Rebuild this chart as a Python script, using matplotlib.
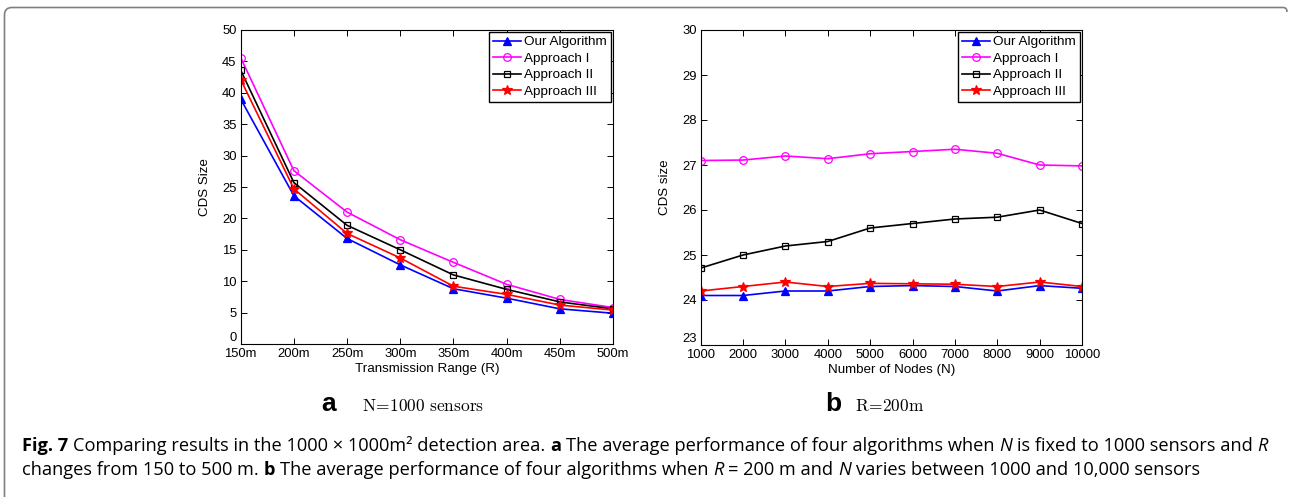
import matplotlib
matplotlib.use('Agg')
import matplotlib.pyplot as plt
from matplotlib.path import Path
from matplotlib.patches import PathPatch

# panel a: CDS size vs transmission range, N = 1000
ranges = [150, 200, 250, 300, 350, 400, 450, 500]
range_labels = ['150m', '200m', '250m', '300m', '350m', '400m', '450m', '500m']
a_ours = [39.0, 23.6, 16.8, 12.6, 8.8, 7.3, 5.6, 4.9]
a_app1 = [45.6, 27.6, 21.0, 16.6, 13.0, 9.5, 7.1, 5.8]
a_app2 = [43.6, 25.7, 18.9, 15.0, 11.0, 8.7, 6.7, 5.6]
a_app3 = [42.1, 24.7, 17.6, 13.7, 9.2, 7.9, 6.2, 5.4]

# panel b: CDS size vs number of nodes, R = 200m
nodes = [1000, 2000, 3000, 4000, 5000, 6000, 7000, 8000, 9000, 10000]
b_ours = [24.1, 24.1, 24.2, 24.2, 24.3, 24.32, 24.3, 24.2, 24.32, 24.26]
b_app1 = [27.1, 27.11, 27.2, 27.14, 27.25, 27.3, 27.35, 27.26, 27.0, 26.98]
b_app2 = [24.71, 25.0, 25.2, 25.3, 25.6, 25.7, 25.8, 25.84, 26.0, 25.7]
b_app3 = [24.2, 24.3, 24.4, 24.3, 24.37, 24.36, 24.35, 24.3, 24.4, 24.3]

names = ['Our Algorithm', 'Approach I', 'Approach II', 'Approach III']
colors = ['#0000ff', '#ff00ff', '#000000', '#ff0000']
markers = ['^', 'o', 's', '*']
msizes = [5.5, 5.5, 4.5, 7.5]
mfaces = ['#0000ff', 'none', 'none', '#ff0000']

W, H = 1289, 497
plt.rcParams['font.family'] = ['Liberation Sans', 'DejaVu Sans']
fig = plt.figure(figsize=(W / 100, H / 100), dpi=100)


def px(x0, y0, x1, y1):
    return [x0 / W, 1 - y1 / H, (x1 - x0) / W, (y1 - y0) / H]


def panel(ax, x, series, ylab):
    for ys, name, c, m, ms, mf in zip(series, names, colors, markers, msizes, mfaces):
        ax.plot(x, ys, color=c, marker=m, markersize=ms, markerfacecolor=mf,
                markeredgecolor=c, markeredgewidth=0.9, linewidth=1.2, label=name)
    ax.tick_params(direction='in', top=True, right=True, length=4, width=0.7,
                   labelsize=9.4, pad=3)
    ax.tick_params(axis='x', pad=3)
    for s in ax.spines.values():
        s.set_linewidth(0.8)
    ax.set_ylabel(ylab, fontsize=9.6, labelpad=8)
    leg = ax.legend(loc='upper right', fontsize=9.7, borderaxespad=0.15,
                    handlelength=2.1, handletextpad=0.2, labelspacing=0.3,
                    borderpad=0.3, fancybox=False, framealpha=1)
    leg.get_frame().set_edgecolor('black')
    leg.get_frame().set_linewidth(1.0)


ax1 = fig.add_axes(px(240.7, 30, 613, 344))
panel(ax1, ranges, [a_ours, a_app1, a_app2, a_app3], 'CDS Size')
ax1.set_xlim(150, 500)
ax1.set_ylim(0, 50)
ax1.set_xticks(ranges)
ax1.set_xticklabels(range_labels)
ax1.set_yticks(range(0, 51, 5))
ax1.set_xlabel('Transmission Range (R)', fontsize=9.6, labelpad=2)

ax2 = fig.add_axes(px(700.7, 30, 1082, 345))
panel(ax2, nodes, [b_ours, b_app1, b_app2, b_app3], 'CDS size')
ax2.set_xlim(1000, 10000)
ax2.set_ylim(23, 30)
ax2.set_xticks(nodes)
ax2.set_yticks(range(23, 31))
ax2.set_xlabel('Number of Nodes (N)', fontsize=9.6, labelpad=2)

# lowest y label sits just above the axis, as in the original
fig.canvas.draw()
for ax in (ax1, ax2):
    ax.get_yticklabels()[0].set_verticalalignment('bottom')

# sub-figure labels
fig.text(321 / W, 1 - 411 / H, 'a', fontsize=19, fontweight='bold', va='baseline')
fig.text(362 / W, 1 - 411 / H, r'$\mathrm{N}\!=\!\mathrm{1000\ sensors}$', fontsize=12.5,
         math_fontfamily='cm', va='baseline')
fig.text(825 / W, 1 - 411 / H, 'b', fontsize=19, fontweight='bold', va='baseline')
fig.text(855 / W, 1 - 411 / H, r'$\mathrm{R}\!=\!\mathrm{200m}$', fontsize=12.5,
         math_fontfamily='cm', va='baseline')

# caption with mixed bold / italic pieces
cap_font = ['Open Sans', 'DejaVu Sans']
line1 = [('Fig. 7', 'b'), (' Comparing results in the 1000 \u00d7 1000m\u00b2 detection area. ', 'n'),
         ('a', 'b'), (' The average performance of four algorithms when ', 'n'), ('N', 'i'),
         (' is fixed to 1000 sensors and ', 'n'), ('R', 'i')]
line2 = [('changes from 150 to 500 m. ', 'n'), ('b', 'b'),
         (' The average performance of four algorithms when ', 'n'), ('R', 'i'),
         (' = 200 m and ', 'n'), ('N', 'i'), (' varies between 1000 and 10,000 sensors', 'n')]

renderer = fig.canvas.get_renderer()


def rich(x0, base, parts, size):
    sp = size * 100 / 72 * 0.26
    x = x0
    arts = []
    for txt, st in parts:
        core = txt.strip(' ')
        x += (len(txt) - len(txt.lstrip(' '))) * sp
        t = fig.text(x / W, 1 - base / H, core, fontsize=size, family=cap_font,
                     fontweight='bold' if st == 'b' else 'normal',
                     fontstyle='italic' if st == 'i' else 'normal', va='baseline')
        x = t.get_window_extent(renderer).x1 + (len(txt) - len(txt.rstrip(' '))) * sp
        arts.append(t)
    return x, arts


size = 11.0
end, arts = rich(22, 451, line1, size)
for t in arts:
    t.remove()
size *= (1272 - 22) / (end - 22)
rich(22, 451, line1, size)
rich(22, 475, line2, size)

# rounded frame (left and top edges)
verts = [(4.5, H), (4.5, 15), (4.5, 7.5), (12, 7.5), (1283, 7.5), (1287, 7.5), (1287, 12)]
codes = [Path.MOVETO, Path.LINETO, Path.CURVE3, Path.CURVE3, Path.LINETO, Path.CURVE3, Path.CURVE3]
verts = [(vx / W, 1 - vy / H) for vx, vy in verts]
fig.add_artist(PathPatch(Path(verts, codes), transform=fig.transFigure, fill=False,
                         edgecolor='#7f7f7f', linewidth=1.2))

fig.savefig('out.png', dpi=100)
